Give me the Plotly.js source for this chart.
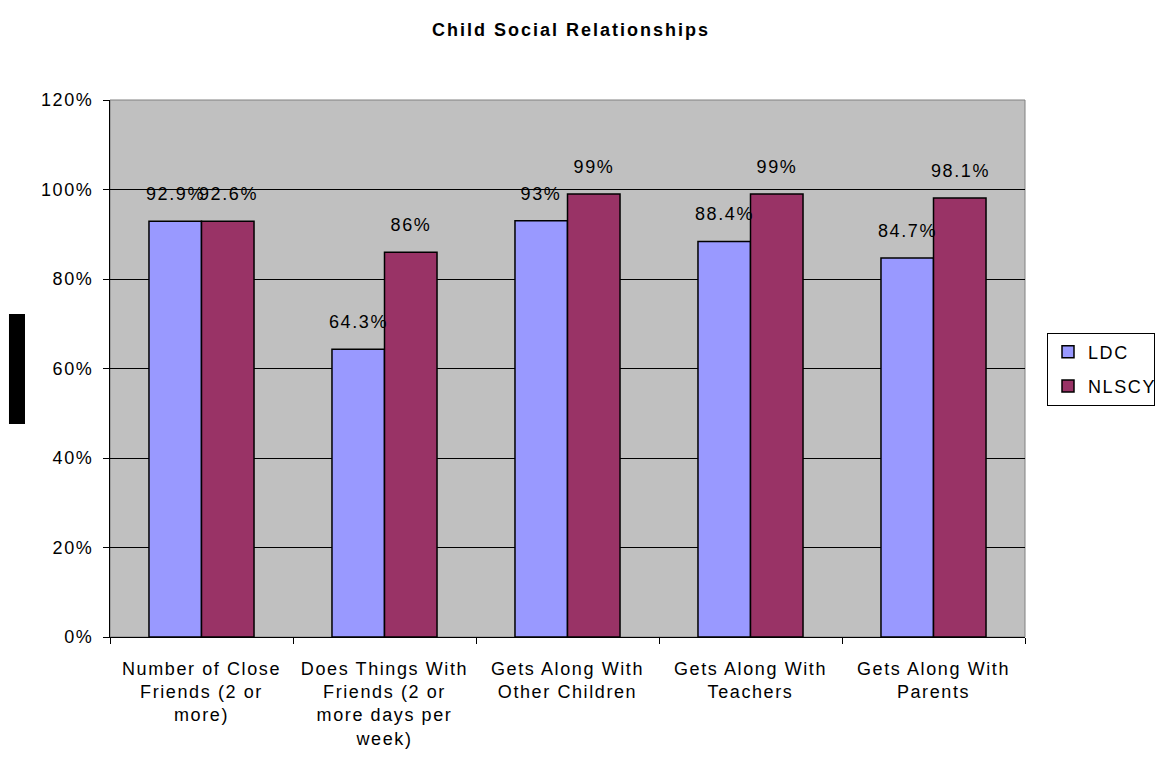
<!DOCTYPE html>
<html>
<head>
<meta charset="utf-8">
<script src="https://cdn.plot.ly/plotly-3.0.1.min.js"></script>
<style>
  html, body { margin: 0; padding: 0; background: #fff; }
  #chart { width: 1156px; height: 770px; }
  #chart .main-svg text { letter-spacing: 1.6px; }
  #chart .main-svg .gtitle { letter-spacing: 2px; }
</style>
</head>
<body>
<div id="chart"></div>
<script>
// ---- data ----
const categories = [
  "Number of Close<br>Friends (2 or<br>more)",
  "Does Things With<br>Friends (2 or<br>more days per<br>week)",
  "Gets Along With<br>Other Children",
  "Gets Along With<br>Teachers",
  "Gets Along With<br>Parents"
];
const seriesNames = ["LDC", "NLSCY"];
const ldcValues   = [0.929, 0.643, 0.93, 0.884, 0.847];
const nlscyValues = [0.929, 0.86, 0.99, 0.99, 0.981];
const ldcLabels   = ["92.9%", "64.3%", "93%", "88.4%", "84.7%"];
const nlscyLabels = ["92.6%", "86%", "99%", "99%", "98.1%"];
const yTickVals   = [0, 0.2, 0.4, 0.6, 0.8, 1.0, 1.2];
const yTickText   = ["0%", "20%", "40%", "60%", "80%", "100%", "120%"];

const FONT = "Arial, 'Liberation Sans', sans-serif";

const traces = [
  {
    type: "bar", name: seriesNames[0], x: categories, y: ldcValues,
    legendgroup: "a",
    marker: { color: "#9999FF", line: { color: "#000000", width: 1.5 } },
    hoverinfo: "skip"
  },
  {
    type: "bar", name: seriesNames[1], x: categories, y: nlscyValues,
    legendgroup: "b",
    marker: { color: "#993366", line: { color: "#000000", width: 1.5 } },
    hoverinfo: "skip"
  }
];

const annotations = [];
categories.forEach((c, i) => {
  annotations.push({
    x: c, y: ldcValues[i], xref: "x", yref: "y", text: ldcLabels[i],
    showarrow: false, xshift: -26.5, yshift: 27, yanchor: "middle", xanchor: "center",
    font: { family: FONT, size: 18, color: "#000" }
  });
  annotations.push({
    x: c, y: nlscyValues[i], xref: "x", yref: "y", text: nlscyLabels[i],
    showarrow: false, xshift: 26.5, yshift: 27, yanchor: "middle", xanchor: "center",
    font: { family: FONT, size: 18, color: "#000" }
  });
});

const layout = {
  width: 1156, height: 770,
  margin: { l: 110, r: 131, t: 100, b: 133, autoexpand: false },
  paper_bgcolor: "#FFFFFF",
  plot_bgcolor: "#C0C0C0",
  font: { family: FONT, size: 18, color: "#000" },
  title: {
    text: "<b>Child Social Relationships</b>",
    font: { family: FONT, size: 18, color: "#000" },
    x: 571 / 1156, xref: "container", xanchor: "center",
    y: 1 - 30 / 770, yref: "container", yanchor: "middle"
  },
  barmode: "group",
  bargap: 0.426,
  bargroupgap: 0,
  showlegend: true,
  legend: {
    xref: "container", yref: "container",
    x: 1047 / 1156, xanchor: "left", y: 1 - 369 / 770, yanchor: "middle",
    bgcolor: "#FFFFFF", bordercolor: "#000000", borderwidth: 1,
    font: { family: FONT, size: 18, color: "#000" },
    tracegroupgap: 8,
    traceorder: "grouped"
  },
  xaxis: {
    type: "category",
    automargin: false,
    showline: true, linecolor: "#000", linewidth: 1,
    ticks: "outside", tickson: "boundaries", ticklen: 6, tickcolor: "#000",
    ticklabelstandoff: 15,
    showgrid: false, zeroline: false,
    tickfont: { family: FONT, size: 18, color: "#000" },
    tickangle: 0
  },
  yaxis: {
    automargin: false,
    range: [0, 1.2],
    tickvals: yTickVals, ticktext: yTickText,
    showline: true, linecolor: "#000", linewidth: 1,
    ticks: "outside", ticklen: 6, tickcolor: "#000",
    ticklabelstandoff: 6,
    showgrid: true, gridcolor: "#000", gridwidth: 1,
    zeroline: false,
    tickfont: { family: FONT, size: 18, color: "#000" }
  },
  annotations: annotations,
  shapes: [
    {
      type: "rect", xref: "paper", yref: "paper", x0: 0, x1: 1, y0: 0, y1: 1,
      line: { color: "#808080", width: 1 }, fillcolor: "rgba(0,0,0,0)", layer: "below"
    },
    {
      type: "rect", xref: "paper", yref: "paper",
      x0: -0.1104, x1: -0.0929, y0: 0.3966, y1: 0.6015,
      line: { width: 0 }, fillcolor: "#000000"
    }
  ]
};

Plotly.newPlot("chart", traces, layout, { displayModeBar: false, staticPlot: true });
</script>
</body>
</html>
